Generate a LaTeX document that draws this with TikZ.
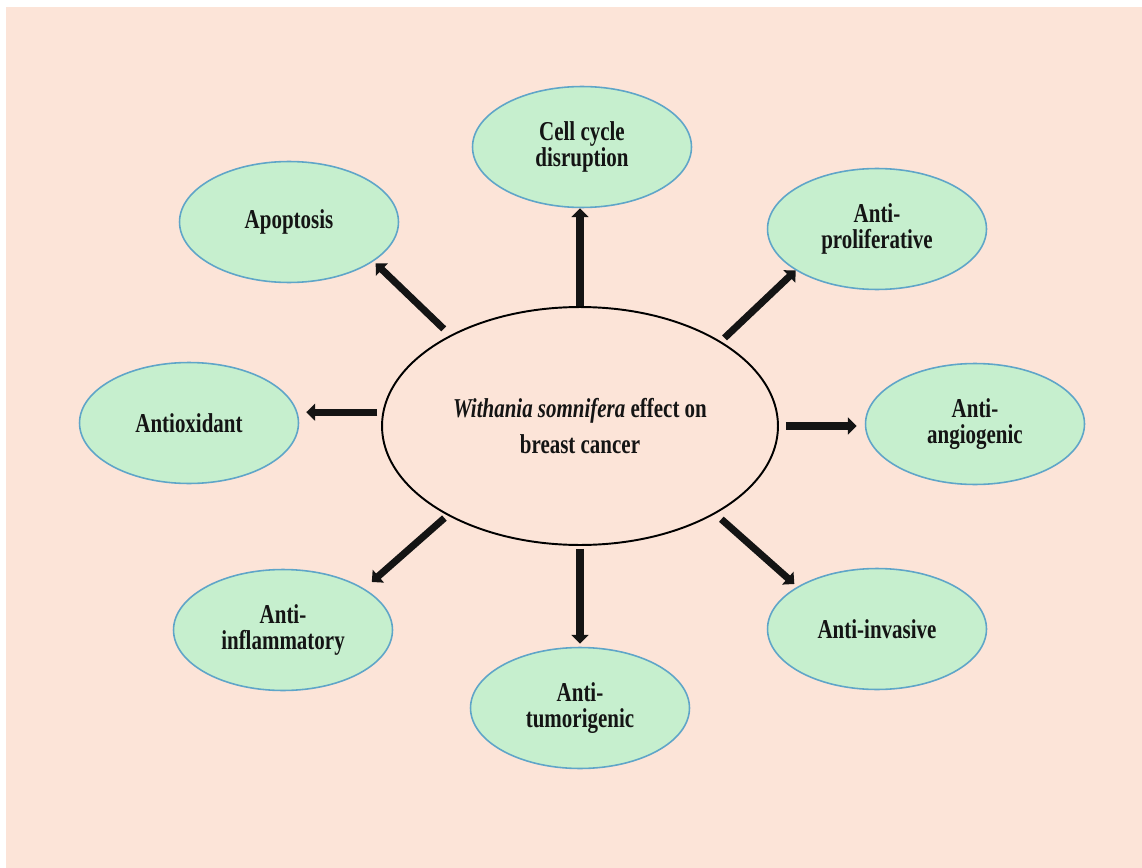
\documentclass[tikz,border=0pt]{standalone}
\usepackage{fontspec}
\setmainfont{Liberation Serif}[FakeStretch=0.77]
\usepackage{tikz}
\usetikzlibrary{shapes.geometric, arrows.meta, positioning}
\definecolor{wspeach}{RGB}{252,228,216}
\definecolor{wsleaf}{RGB}{198,239,206}
\definecolor{wsrim}{RGB}{95,165,200}

\begin{document}
\begin{tikzpicture}[x=0.02cm, y=-0.02cm,
  every node/.style={font=\fontsize{15.5}{15}\selectfont\bfseries, text=black!92, align=center},
  effect/.style={ellipse, draw=wsrim, line width=0.9pt, fill=wsleaf, minimum width=4.38cm, minimum height=2.42cm, inner sep=0pt},
  arr/.style={-{Triangle[length=5pt,width=9.5pt]}, line width=4pt, black!92}]
  \useasboundingbox (0,0) rectangle (1142,868);
  \fill[wspeach] (6,7) rectangle (1142,868);
  % centre
  \node[ellipse, draw, line width=1.1pt, fill=wspeach, minimum width=7.92cm, minimum height=4.76cm, inner sep=0pt,
        font=\fontsize{15.5}{20}\selectfont\bfseries] (hub) at (580,426) {\textit{Withania somnifera} effect on\\breast cancer};
  % effects
  \node[effect] (cell) at (582,147) {Cell cycle\\disruption};
  \node[effect] (apop) at (289,222) {Apoptosis};
  \node[effect] (prolif) at (877,229) {Anti-\\proliferative};
  \node[effect] (antiox) at (189,423) {Antioxidant};
  \node[effect] (angio) at (975,424) {Anti-\\angiogenic};
  \node[effect] (inflam) at (283,630) {Anti-\\inflammatory};
  \node[effect] (tumor) at (580,708) {Anti-\\tumorigenic};
  \node[effect] (invas) at (877,629) {Anti-invasive};
  % arrows
  \draw[arr] (hub.north) -- (hub.north |- cell.south);
  \draw[arr, shorten <=0.18cm, shorten >=0.06cm] (hub.145) -- (apop.-25);
  \draw[arr, shorten <=0.1cm] (hub.31) -- (prolif.207);
  \draw[arr, shorten <=0.1cm, shorten >=0.14cm] (hub.176) -- (hub.176 -| antiox.east);
  \draw[arr, shorten <=0.14cm, shorten >=0.16cm] (hub.east) -- (hub.east -| angio.west);
  \draw[arr, shorten <=0.08cm, shorten >=0.2cm] (hub.214) -- (inflam.27);
  \draw[arr, shorten <=0.06cm, shorten >=0.06cm] (hub.south) -- (hub.south |- tumor.north);
  \draw[arr, shorten <=0.16cm, shorten >=0.08cm] (hub.-33) -- (invas.152);
\end{tikzpicture}
\end{document}
